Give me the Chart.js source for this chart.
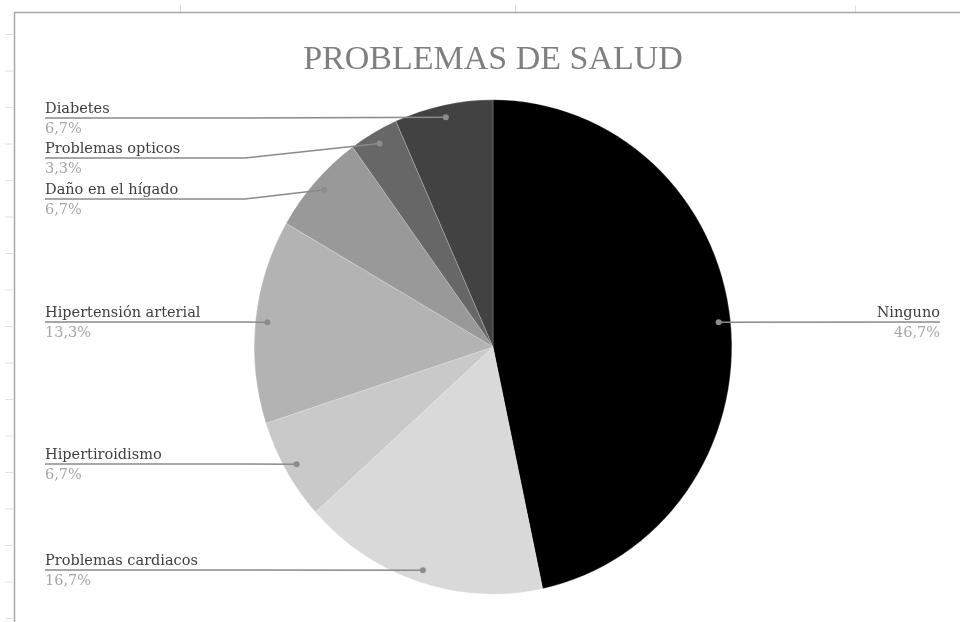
<!DOCTYPE html>
<html>
<head>
<meta charset="utf-8">
<script src="https://cdn.jsdelivr.net/npm/chart.js@4/dist/chart.umd.min.js"></script>
<style>
  html, body { margin: 0; padding: 0; background: #fff; }
  #wrap { width: 960px; height: 622px; }
</style>
</head>
<body>
<div id="wrap"><canvas id="healthChart" width="960" height="622"></canvas></div>
<script>
// Chart data (counts out of 30 people)
const categories = ["Ninguno", "Problemas cardiacos", "Hipertiroidismo", "Hipertensión arterial",
                    "Daño en el hígado", "Problemas opticos", "Diabetes"];
const counts = [14, 5, 2, 4, 2, 1, 2];
const sliceColors = ["#000000", "#d9d9d9", "#c9c9c9", "#b3b3b3", "#999999", "#676767", "#424242"];
const chartTitle = "PROBLEMAS DE SALUD";

// Where the callout labels sit (underline y, side)
const labelLayout = [
  { y: 322, side: "right" },
  { y: 570, side: "left" },
  { y: 464, side: "left" },
  { y: 322, side: "left" },
  { y: 199, side: "left" },
  { y: 158, side: "left" },
  { y: 118, side: "left" },
];

const TITLE_FONT = "'Liberation Serif', serif";
const LABEL_FONT = "'DejaVu Serif', 'Liberation Serif', serif";
const Y_STRETCH = 1.035; // the original pie is slightly taller than wide

function formatPct(v, total) {
  return (v / total * 100).toFixed(1).replace(".", ",") + "%";
}

// Spreadsheet frame behind the chart
const framePlugin = {
  id: "frame",
  beforeDraw(chart) {
    const ctx = chart.ctx;
    ctx.save();
    ctx.strokeStyle = "#e0e0e0";
    ctx.lineWidth = 1;
    for (let y = 34; y < 622; y += 36.5) {
      ctx.beginPath(); ctx.moveTo(5, y + 0.5); ctx.lineTo(13, y + 0.5); ctx.stroke();
    }
    [180, 515, 855].forEach(x => {
      ctx.beginPath(); ctx.moveTo(x + 0.5, 5); ctx.lineTo(x + 0.5, 12); ctx.stroke();
    });
    ctx.strokeStyle = "#a6a6a6";
    ctx.lineWidth = 1.5;
    ctx.beginPath();
    ctx.moveTo(960, 12.5);
    ctx.lineTo(14.5, 12.5);
    ctx.lineTo(14.5, 622);
    ctx.stroke();
    ctx.restore();
  }
};

// Stretch the pie a little vertically
const stretchPlugin = {
  id: "stretch",
  beforeDatasetsDraw(chart) {
    const arc = chart.getDatasetMeta(0).data[0];
    const ctx = chart.ctx;
    ctx.save();
    ctx.translate(arc.x, arc.y);
    ctx.scale(1, Y_STRETCH);
    ctx.translate(-arc.x, -arc.y);
  },
  afterDatasetsDraw(chart) {
    chart.ctx.restore();
  }
};

// Callout labels with leader lines
const calloutPlugin = {
  id: "callouts",
  afterDatasetsDraw(chart) {
    const ctx = chart.ctx;
    const meta = chart.getDatasetMeta(0);
    const total = counts.reduce((a, b) => a + b, 0);
    ctx.save();
    meta.data.forEach((arc, i) => {
      const mid = (arc.startAngle + arc.endAngle) / 2;
      const r = arc.outerRadius * 0.95;
      const dx = arc.x + Math.cos(mid) * r;
      const dy = arc.y + Math.sin(mid) * r * Y_STRETCH;
      const lay = labelLayout[i];

      ctx.strokeStyle = "#8a8a8a";
      ctx.lineWidth = 1.5;
      ctx.beginPath();
      if (lay.side === "left") {
        ctx.moveTo(45, lay.y);
        ctx.lineTo(Math.min(245, dx), lay.y);
        ctx.lineTo(dx, dy);
      } else {
        ctx.moveTo(940, lay.y);
        ctx.lineTo(dx, dy);
      }
      ctx.stroke();

      ctx.fillStyle = "#8c8c8c";
      ctx.beginPath();
      ctx.arc(dx, dy, 3, 0, Math.PI * 2);
      ctx.fill();

      ctx.font = "14.5px " + LABEL_FONT;
      ctx.textBaseline = "alphabetic";
      ctx.textAlign = lay.side === "left" ? "left" : "right";
      const tx = lay.side === "left" ? 45 : 940;
      ctx.fillStyle = "#404040";
      ctx.fillText(categories[i], tx, lay.y - 5);
      ctx.fillStyle = "#a6a6a6";
      ctx.fillText(formatPct(counts[i], total), tx, lay.y + 15);
    });
    ctx.restore();
  }
};

document.addEventListener("DOMContentLoaded", () => {
  const ctx = document.getElementById("healthChart").getContext("2d");
  new Chart(ctx, {
    type: "pie",
    data: {
      labels: categories,
      datasets: [{
        data: counts,
        backgroundColor: sliceColors,
        borderColor: "rgba(255,255,255,0.35)",
        borderWidth: 0.6,
      }]
    },
    options: {
      responsive: false,
      animation: false,
      layout: { padding: { left: 253, right: 227, top: 0, bottom: 36 } },
      plugins: {
        legend: { display: false },
        tooltip: { enabled: false },
        title: {
          display: true,
          text: chartTitle,
          color: "#7f7f7f",
          font: { family: TITLE_FONT, size: 34, weight: "normal" },
          padding: { top: 40, bottom: 27 },
        }
      }
    },
    plugins: [framePlugin, stretchPlugin, calloutPlugin]
  });
});
</script>
</body>
</html>
